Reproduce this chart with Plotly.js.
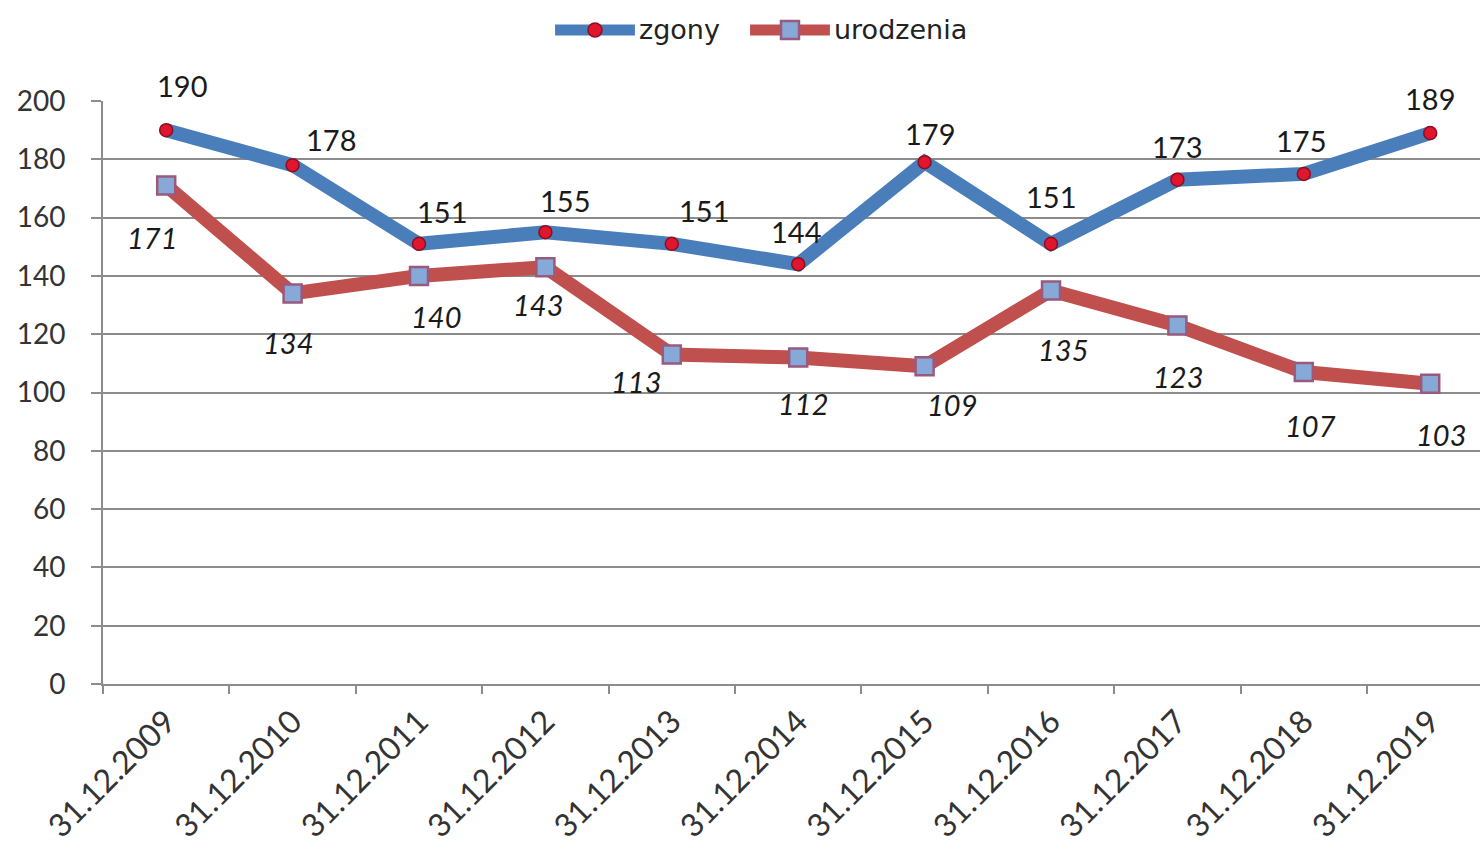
<!DOCTYPE html>
<html>
<head>
<meta charset="utf-8">
<script src="https://cdn.plot.ly/plotly-3.0.1.min.js"></script>
<style>html,body{margin:0;padding:0;background:#fff;overflow:hidden}#chart{width:1480px;height:848px}</style>
</head>
<body>
<div id="chart"></div>
<script>
const categories = ["31.12.2009","31.12.2010","31.12.2011","31.12.2012","31.12.2013","31.12.2014","31.12.2015","31.12.2016","31.12.2017","31.12.2018","31.12.2019"];
const zgony = [190, 178, 151, 155, 151, 144, 179, 151, 173, 175, 189];
const urodzenia = [171, 134, 140, 143, 113, 112, 109, 135, 123, 107, 103];
const yTicks = [0, 20, 40, 60, 80, 100, 120, 140, 160, 180, 200];
const seriesNames = ['zgony', 'urodzenia'];

// label offsets (px) relative to the points
const zOff = [[16,45],[38,26],[23,32],[20,32],[32,33],[-2,33],[5,29],[0,47],[0,33],[-3,33],[0,35]];
const uOff = [[-14,-52],[-5,-49],[17,-41],[-7,-37],[-36,-27],[5,-46],[27,-38],[12,-59],[1,-51],[7,-53],[11,-51]];

const FONT = "Lato, 'Open Sans', sans-serif";
const BLUE = '#4a7ebb', RED = '#c0504d';
const annotations = [];
categories.forEach((c, i) => {
  annotations.push({x: c, y: zgony[i], text: String(zgony[i]), showarrow: false,
    xshift: zOff[i][0], yshift: zOff[i][1], font: {family: FONT, size: 29, color: '#1a1a1a'}});
  annotations.push({x: c, y: urodzenia[i], text: '<i>' + urodzenia[i] + '</i>', showarrow: false,
    xshift: uOff[i][0], yshift: uOff[i][1], font: {family: FONT, size: 29, color: '#1a1a1a'}});
});

// custom legend (paper coordinates)
const LY = 1.1218;
const legFont = {family: "'DejaVu Sans', sans-serif", size: 27, color: '#222'};
annotations.push({xref: 'paper', yref: 'paper', x: 0.3875, y: LY, xanchor: 'left', yanchor: 'middle',
  text: seriesNames[0], showarrow: false, font: legFont});
annotations.push({xref: 'paper', yref: 'paper', x: 0.5295, y: LY, xanchor: 'left', yanchor: 'middle',
  text: seriesNames[1], showarrow: false, font: legFont});
const shapes = [
  {type: 'line', xref: 'paper', yref: 'paper', x0: 0.3283, x1: 0.3863, y0: LY, y1: LY,
   line: {color: BLUE, width: 11}},
  {type: 'circle', xref: 'paper', yref: 'paper', xsizemode: 'pixel', ysizemode: 'pixel',
   xanchor: 0.3573, yanchor: LY, x0: -7, x1: 7, y0: -7, y1: 7,
   fillcolor: '#e0152e', line: {color: '#8a1020', width: 1.5}},
  {type: 'line', xref: 'paper', yref: 'paper', x0: 0.4699, x1: 0.5279, y0: LY, y1: LY,
   line: {color: RED, width: 11}},
  {type: 'rect', xref: 'paper', yref: 'paper', xsizemode: 'pixel', ysizemode: 'pixel',
   xanchor: 0.4989, yanchor: LY, x0: -9, x1: 9, y0: -9, y1: 9,
   fillcolor: '#86a9d8', line: {color: '#9a5a7e', width: 2.5}}
];

const traces = [
  {x: categories, y: zgony, name: seriesNames[0], type: 'scatter', mode: 'lines+markers',
   line: {color: BLUE, width: 14},
   marker: {symbol: 'circle', size: 13, color: '#e0152e', line: {color: '#8a1020', width: 1.5}}},
  {x: categories, y: urodzenia, name: seriesNames[1], type: 'scatter', mode: 'lines+markers',
   line: {color: RED, width: 14},
   marker: {symbol: 'square', size: 18, color: '#86a9d8', line: {color: '#9a5a7e', width: 2.5}}}
];

const layout = {
  width: 1480, height: 848,
  margin: {l: 103, r: 0, t: 101, b: 164},
  paper_bgcolor: '#fff', plot_bgcolor: '#fff',
  showlegend: false,
  xaxis: {type: 'category', range: [-0.5, 10.394], tickson: 'boundaries',
    ticks: 'outside', ticklen: 8, tickwidth: 2, tickcolor: '#8c8c8c',
    showgrid: false, zeroline: false, showline: true, linecolor: '#8c8c8c', linewidth: 2,
    tickangle: -45, tickfont: {family: FONT, size: 32, color: '#333'}, ticklabelstandoff: 4, fixedrange: true},
  yaxis: {range: [0, 200], tickvals: yTicks, ticktext: yTicks.map(String),
    ticks: 'outside', ticklen: 10, tickwidth: 2, tickcolor: '#8c8c8c',
    showgrid: true, gridcolor: '#8c8c8c', gridwidth: 2, zeroline: false,
    showline: true, linecolor: '#8c8c8c', linewidth: 2,
    tickfont: {family: FONT, size: 28, color: '#333'}, ticklabelstandoff: 20},
  annotations: annotations,
  shapes: shapes
};

Plotly.newPlot('chart', traces, layout, {displayModeBar: false, staticPlot: true});
</script>
</body>
</html>
